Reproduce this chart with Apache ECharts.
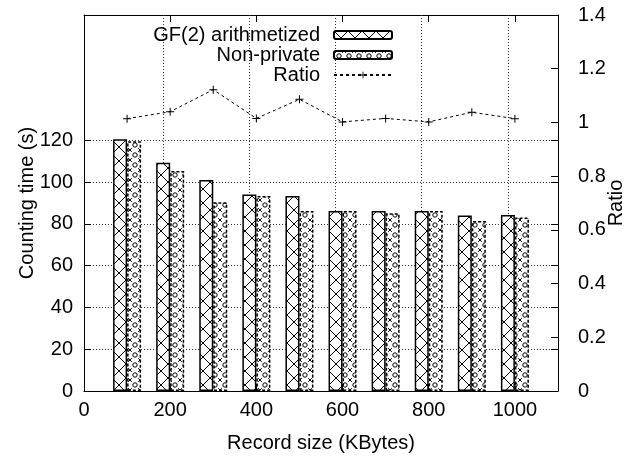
<!DOCTYPE html>
<html>
<head>
<meta charset="utf-8">
<title>Counting time vs record size</title>
<script src="https://cdn.jsdelivr.net/npm/echarts@6/dist/echarts.min.js"></script>
<style>
    * { margin: 0; padding: 0; }
    html, body { background: #fff; }
    #main { width: 639px; height: 457px; }
</style>
</head>
<body>
<div id="main"></div>
<script>
    // record sizes (KBytes)
    var sizes = [100, 200, 300, 400, 500, 600, 700, 800, 900, 1000];
    // counting time (s)
    var gfTimes = [120.5, 109.3, 101.0, 94.1, 93.3, 86.2, 86.2, 86.2, 84.0, 84.2];
    var npTimes = [119.6, 105.3, 90.4, 93.3, 86.2, 86.2, 85.1, 86.2, 81.4, 83.0];
    var ratios = [1.014, 1.040, 1.122, 1.015, 1.086, 1.002, 1.015, 1.002, 1.038, 1.014];

    var xTicks = [0, 200, 400, 600, 800, 1000];
    var leftTicks = [0, 20, 40, 60, 80, 100, 120];

    var font = 'Liberation Sans, Arial, Helvetica, sans-serif';

    function pairs(xs, ys) {
        return xs.map(function (x, i) { return [x, ys[i]]; });
    }

    // gnuplot-like fill patterns
    function crossTile() {
        var c = document.createElement('canvas');
        c.width = 14; c.height = 14;
        var g = c.getContext('2d');
        g.fillStyle = '#fff';
        g.fillRect(0, 0, 14, 14);
        g.strokeStyle = '#000';
        g.lineWidth = 1;
        g.beginPath();
        g.moveTo(0, 0); g.lineTo(14, 14);
        g.moveTo(14, 0); g.lineTo(0, 14);
        g.stroke();
        return c;
    }
    function dotTile() {
        var c = document.createElement('canvas');
        c.width = 10; c.height = 10;
        var g = c.getContext('2d');
        g.fillStyle = '#fff';
        g.fillRect(0, 0, 10, 10);
        g.strokeStyle = '#000';
        g.lineWidth = 1;
        g.beginPath();
        g.arc(5, 5, 2.2, 0, Math.PI * 2);
        g.stroke();
        g.beginPath();
        g.moveTo(0, 0); g.lineTo(1.8, 1.8);
        g.moveTo(10, 0); g.lineTo(8.2, 1.8);
        g.moveTo(0, 10); g.lineTo(1.8, 8.2);
        g.moveTo(10, 10); g.lineTo(8.2, 8.2);
        g.stroke();
        return c;
    }

    var plus = 'path://M0,3.5H8V4.5H0Z M3.5,0H4.5V8H3.5Z';
    var dot = '#333', none = 'rgba(0,0,0,0)';
    var axisLine = { show: true, onZero: false, lineStyle: { color: '#000', width: 1 } };
    var tick = { show: true, inside: true, length: 7, lineStyle: { color: '#000', width: 1 } };
    var leftTick = { show: true, inside: true, length: 7, customValues: leftTicks, lineStyle: { color: '#000', width: 1 } };

    // split line colours per tick: hide the ones gnuplot does not draw
    var yGridColors = leftTicks.map(function () { return dot; }).concat([none, none, none]);

    var chart = echarts.init(document.getElementById('main'));
    var option = {
        animation: false,
        backgroundColor: '#fff',
        textStyle: { fontFamily: font, color: '#000' },
        grid: { left: 84, right: 81, top: 15, bottom: 66, outerBoundsMode: 'none', containLabel: false },
        legend: {
            orient: 'vertical',
            align: 'right',
            right: 246,
            top: 25,
            padding: 0,
            itemWidth: 58,
            itemHeight: 8,
            itemGap: 0,
            textStyle: { fontFamily: font, fontSize: 20, color: '#000', lineHeight: 19, padding: [0, 9, 0, 0] },
            data: ['GF(2) arithmetized', 'Non-private', 'Ratio']
        },
        xAxis: [{
            type: 'value',
            min: 0,
            max: 1100,
            interval: 200,
            name: 'Record size (KBytes)',
            nameLocation: 'middle',
            nameGap: 42,
            nameMoveOverlap: false,
            nameTextStyle: { fontSize: 20, color: '#000' },
            axisLine: axisLine,
            axisTick: tick,
            axisLabel: {
                fontSize: 20, color: '#000', margin: 9,
                formatter: function (v) { return v > 1000 ? '' : String(v); }
            },
            splitLine: { show: false }
        }, {
            type: 'value',
            position: 'top',
            min: 0,
            max: 1100,
            interval: 200,
            axisLine: axisLine,
            axisTick: tick,
            axisLabel: { show: false },
            splitLine: { show: false }
        }],
        yAxis: [{
            type: 'value',
            position: 'left',
            min: 0,
            max: 180,
            interval: 20,
            name: 'Counting time (s)',
            nameLocation: 'middle',
            nameGap: 47,
            nameRotate: 90,
            nameMoveOverlap: false,
            nameTextStyle: { fontSize: 20, color: '#000' },
            axisLine: axisLine,
            axisTick: leftTick,
            axisLabel: {
                fontSize: 20, color: '#000', margin: 11,
                formatter: function (v) { return v > 120 ? '' : String(v); }
            },
            splitLine: { show: true, lineStyle: { color: yGridColors, width: 1, type: [1, 2] } }
        }, {
            type: 'value',
            position: 'right',
            min: 0,
            max: 1.4,
            interval: 0.2,
            name: 'Ratio',
            nameLocation: 'middle',
            nameGap: 48,
            nameRotate: 90,
            nameMoveOverlap: false,
            nameTextStyle: { fontSize: 20, color: '#000' },
            axisLine: axisLine,
            axisTick: tick,
            axisLabel: {
                fontSize: 20, color: '#000', margin: 20,
                formatter: function (v) { return String(Math.round(v * 10) / 10); }
            },
            splitLine: { show: false }
        }, {
            type: 'value',
            position: 'right',
            min: 0,
            max: 180,
            interval: 20,
            axisLine: { show: false, onZero: false },
            axisTick: leftTick,
            axisLabel: { show: false },
            splitLine: { show: false }
        }],
        series: [{
            name: 'GF(2) arithmetized',
            type: 'bar',
            yAxisIndex: 0,
            barWidth: 14,
            barGap: '0%',
            itemStyle: {
                color: { image: crossTile(), repeat: 'repeat' },
                borderColor: '#000',
                borderWidth: 1.5
            },
            // vertical grid lines at the x tick values
            markLine: {
                z: 1,
                silent: true,
                symbol: 'none',
                label: { show: false },
                lineStyle: { color: dot, width: 1, type: [1, 2] },
                data: xTicks.filter(function (v) { return v > 0; }).map(function (v) { return { xAxis: v }; })
            },
            data: pairs(sizes, gfTimes)
        }, {
            name: 'Non-private',
            type: 'bar',
            yAxisIndex: 0,
            barWidth: 14,
            barGap: '0%',
            itemStyle: {
                color: { image: dotTile(), repeat: 'repeat' },
                borderColor: '#000',
                borderWidth: 1.5,
                borderType: [3, 2]
            },
            data: pairs(sizes, npTimes)
        }, {
            name: 'Ratio',
            type: 'line',
            yAxisIndex: 1,
            symbol: plus,
            symbolSize: 8,
            itemStyle: { color: '#000' },
            lineStyle: { color: '#000', width: 1, type: [3, 3] },
            data: pairs(sizes, ratios)
        }]
    };
    chart.setOption(option);
</script>
</body>
</html>
